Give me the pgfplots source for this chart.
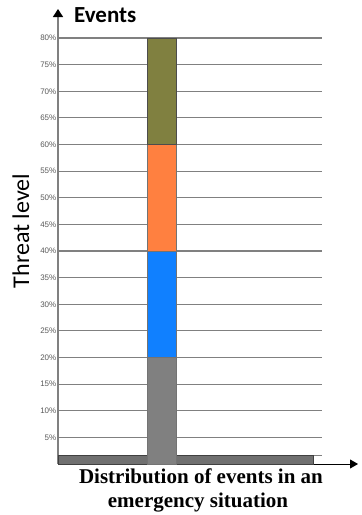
\documentclass[border=0pt]{standalone}
\usepackage{fontspec}
\setmainfont{Liberation Sans}
\newfontfamily\carlito{Carlito}
\newfontfamily\serifx{Liberation Serif}
\usepackage{pgfplots}
\pgfplotsset{compat=1.18}
\usetikzlibrary{arrows.meta}
\definecolor{olivebar}{RGB}{128,128,64}
\definecolor{orangebar}{RGB}{255,128,64}
\definecolor{bluebar}{RGB}{16,128,255}
\definecolor{graybar}{RGB}{128,128,128}
\definecolor{stripgray}{RGB}{112,112,112}
\definecolor{gridgray}{RGB}{128,128,128}
\definecolor{ticktext}{RGB}{90,90,90}
\begin{document}
\begin{tikzpicture}
\begin{axis}[
  at={(58pt,51pt)}, anchor=south west,
  scale only axis, width=264pt, height=426pt,
  xmin=0, xmax=264, ymin=0, ymax=80,
  axis lines=left,
  x axis line style={black, line width=0.8pt, -{Triangle[black,length=8pt,width=9pt]}, shorten >=-36pt},
  y axis line style={gridgray, line width=1.3pt, -{Triangle[black,length=8pt,width=10pt]}, shorten >=-29pt},
  xtick=\empty,
  ytick={5,10,15,20,25,30,35,40,45,50,55,60,65,70,75,80},
  yticklabels={5\%,10\%,15\%,20\%,25\%,30\%,35\%,40\%,45\%,50\%,55\%,60\%,65\%,70\%,75\%,80\%},
  major tick length=0pt,
  yticklabel style={font=\fontsize{8}{9}\selectfont, text=ticktext, inner sep=1.5pt},
  ymajorgrids, grid style={gridgray, line width=1.2pt},
  clip=false,
]
\addplot[gridgray, line width=1.2pt] coordinates {(0,1.6) (264,1.6)};
\addplot[fill=stripgray, draw=black!75, line width=0.8pt] coordinates {(0,0) (255,0) (255,1.6) (0,1.6)} -- cycle;
\addplot[fill=graybar, draw=black!55, line width=0.7pt] coordinates {(89,0) (118,0) (118,20) (89,20)} -- cycle;
\addplot[fill=bluebar, draw=black!55, line width=0.7pt] coordinates {(89,20) (118,20) (118,40) (89,40)} -- cycle;
\addplot[fill=orangebar, draw=black!55, line width=0.7pt] coordinates {(89,40) (118,40) (118,60) (89,60)} -- cycle;
\addplot[fill=olivebar, draw=black!70, line width=0.8pt] coordinates {(89,60) (118,60) (118,80) (89,80)} -- cycle;
\end{axis}
\node[anchor=base west, inner sep=0pt, font=\carlito\bfseries\fontsize{23}{26}\selectfont] at (74pt,492pt) {Events};
\node[rotate=90, inner sep=0pt, font=\carlito\fontsize{24}{28}\selectfont] at (21pt,284pt) {Threat level};
\node[anchor=base, inner sep=0pt, font=\serifx\bfseries\fontsize{21}{24}\selectfont] at (201pt,31pt) {Distribution of events in an};
\node[anchor=base, inner sep=0pt, font=\serifx\bfseries\fontsize{21}{24}\selectfont] at (198pt,7pt) {emergency situation};
\pgfresetboundingbox
\useasboundingbox (0,0) rectangle (362pt,515pt);
\end{tikzpicture}
\end{document}
